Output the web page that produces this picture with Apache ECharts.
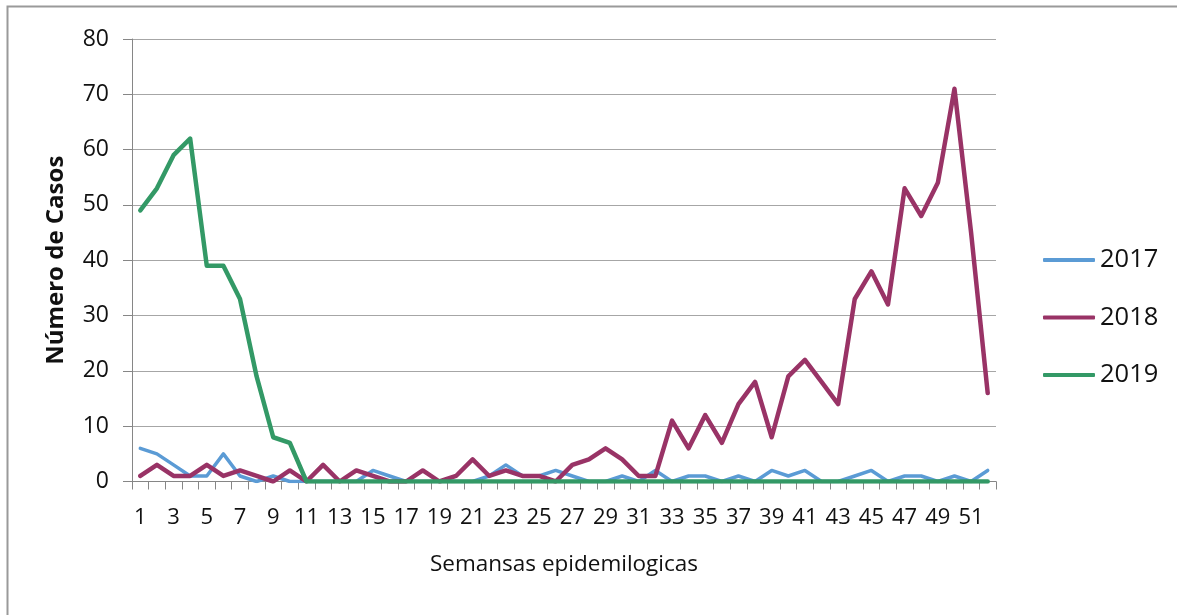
<!DOCTYPE html>
<html>
<head>
<meta charset="utf-8">
<script src="https://cdn.jsdelivr.net/npm/echarts@6/dist/echarts.min.js"></script>
<style>
html,body{margin:0;padding:0;background:#fff;}
#chart{width:1177px;height:615px;}
</style>
</head>
<body>
<div id="chart"></div>
<script>
const weeks = Array.from({length: 52}, (_, i) => String(i + 1));
const yTicks = [0, 10, 20, 30, 40, 50, 60, 70, 80];
const seriesNames = ['2017', '2018', '2019'];
const cases2017 = [6,5,3,1,1,5,1,0,1,0,0,0,0,0,2,1,0,0,0,0,0,1,3,1,1,2,1,0,0,1,0,2,0,1,1,0,1,0,2,1,2,0,0,1,2,0,1,1,0,1,0,2];
const cases2018 = [1,3,1,1,3,1,2,1,0,2,0,3,0,2,1,0,0,2,0,1,4,1,2,1,1,0,3,4,6,4,1,1,11,6,12,7,14,18,8,19,22,18,14,33,38,32,53,48,54,71,45,16];
const cases2019 = [49,53,59,62,39,39,33,19,8,7,0,0,0,0,0,0,0,0,0,0,0,0,0,0,0,0,0,0,0,0,0,0,0,0,0,0,0,0,0,0,0,0,0,0,0,0,0,0,0,0,0,0];
const colors = ['#5b9bd5', '#993366', '#339966'];

const FONT = '"Open Sans", "DejaVu Sans", sans-serif';
const chart = echarts.init(document.getElementById('chart'), null, {renderer: 'canvas'});
const dataSets = [cases2017, cases2018, cases2019];
const widths = [3.5, 4.5, 4.5];

chart.setOption({
  animation: false,
  backgroundColor: '#ffffff',
  grid: {left: 132, right: 181, top: 39, bottom: 133.5, containLabel: false},
  legend: {
    orient: 'vertical',
    left: 1038,
    top: 240,
    icon: 'roundRect',
    itemWidth: 52,
    itemHeight: 4,
    itemGap: 27.5,
    data: seriesNames,
    textStyle: {fontFamily: FONT, fontSize: 25.5, color: '#111', lineHeight: 30}
  },
  xAxis: {
    type: 'category',
    data: weeks,
    boundaryGap: true,
    name: 'Semansas epidemilogicas',
    nameLocation: 'middle',
    nameGap: 72,
    nameTextStyle: {fontFamily: FONT, fontSize: 22.5, color: '#111'},
    axisLine: {lineStyle: {color: '#868686', width: 1}},
    axisTick: {show: true, interval: 0, alignWithLabel: false, length: 8, lineStyle: {color: '#868686'}},
    axisLabel: {interval: 1, margin: 25, fontFamily: FONT, fontSize: 22, color: '#111'},
    splitLine: {show: false}
  },
  yAxis: {
    type: 'value',
    min: yTicks[0],
    max: yTicks[yTicks.length - 1],
    interval: 10,
    name: 'Número de Casos',
    nameLocation: 'middle',
    nameGap: 64,
    nameTextStyle: {fontFamily: FONT, fontSize: 24, fontWeight: 'bold', color: '#111'},
    axisLine: {show: true, lineStyle: {color: '#868686', width: 1}},
    axisTick: {show: true, length: 9, lineStyle: {color: '#868686'}},
    axisLabel: {margin: 23, fontFamily: FONT, fontSize: 23, color: '#111'},
    splitLine: {show: true, lineStyle: {color: '#a6a6a6', width: 1}}
  },
  graphic: [{
    type: 'polyline',
    silent: true,
    shape: {points: [[7.5, 615], [7.5, 6.5], [1177, 6.5]]},
    style: {stroke: '#9a9a9a', lineWidth: 2, fill: null}
  }],
  series: seriesNames.map((name, i) => ({
    name: name,
    type: 'line',
    data: dataSets[i],
    symbol: 'none',
    smooth: false,
    z: 2 + i,
    color: colors[i],
    lineStyle: {color: colors[i], width: widths[i], cap: 'round', join: 'round'}
  }))
});
</script>
</body>
</html>
